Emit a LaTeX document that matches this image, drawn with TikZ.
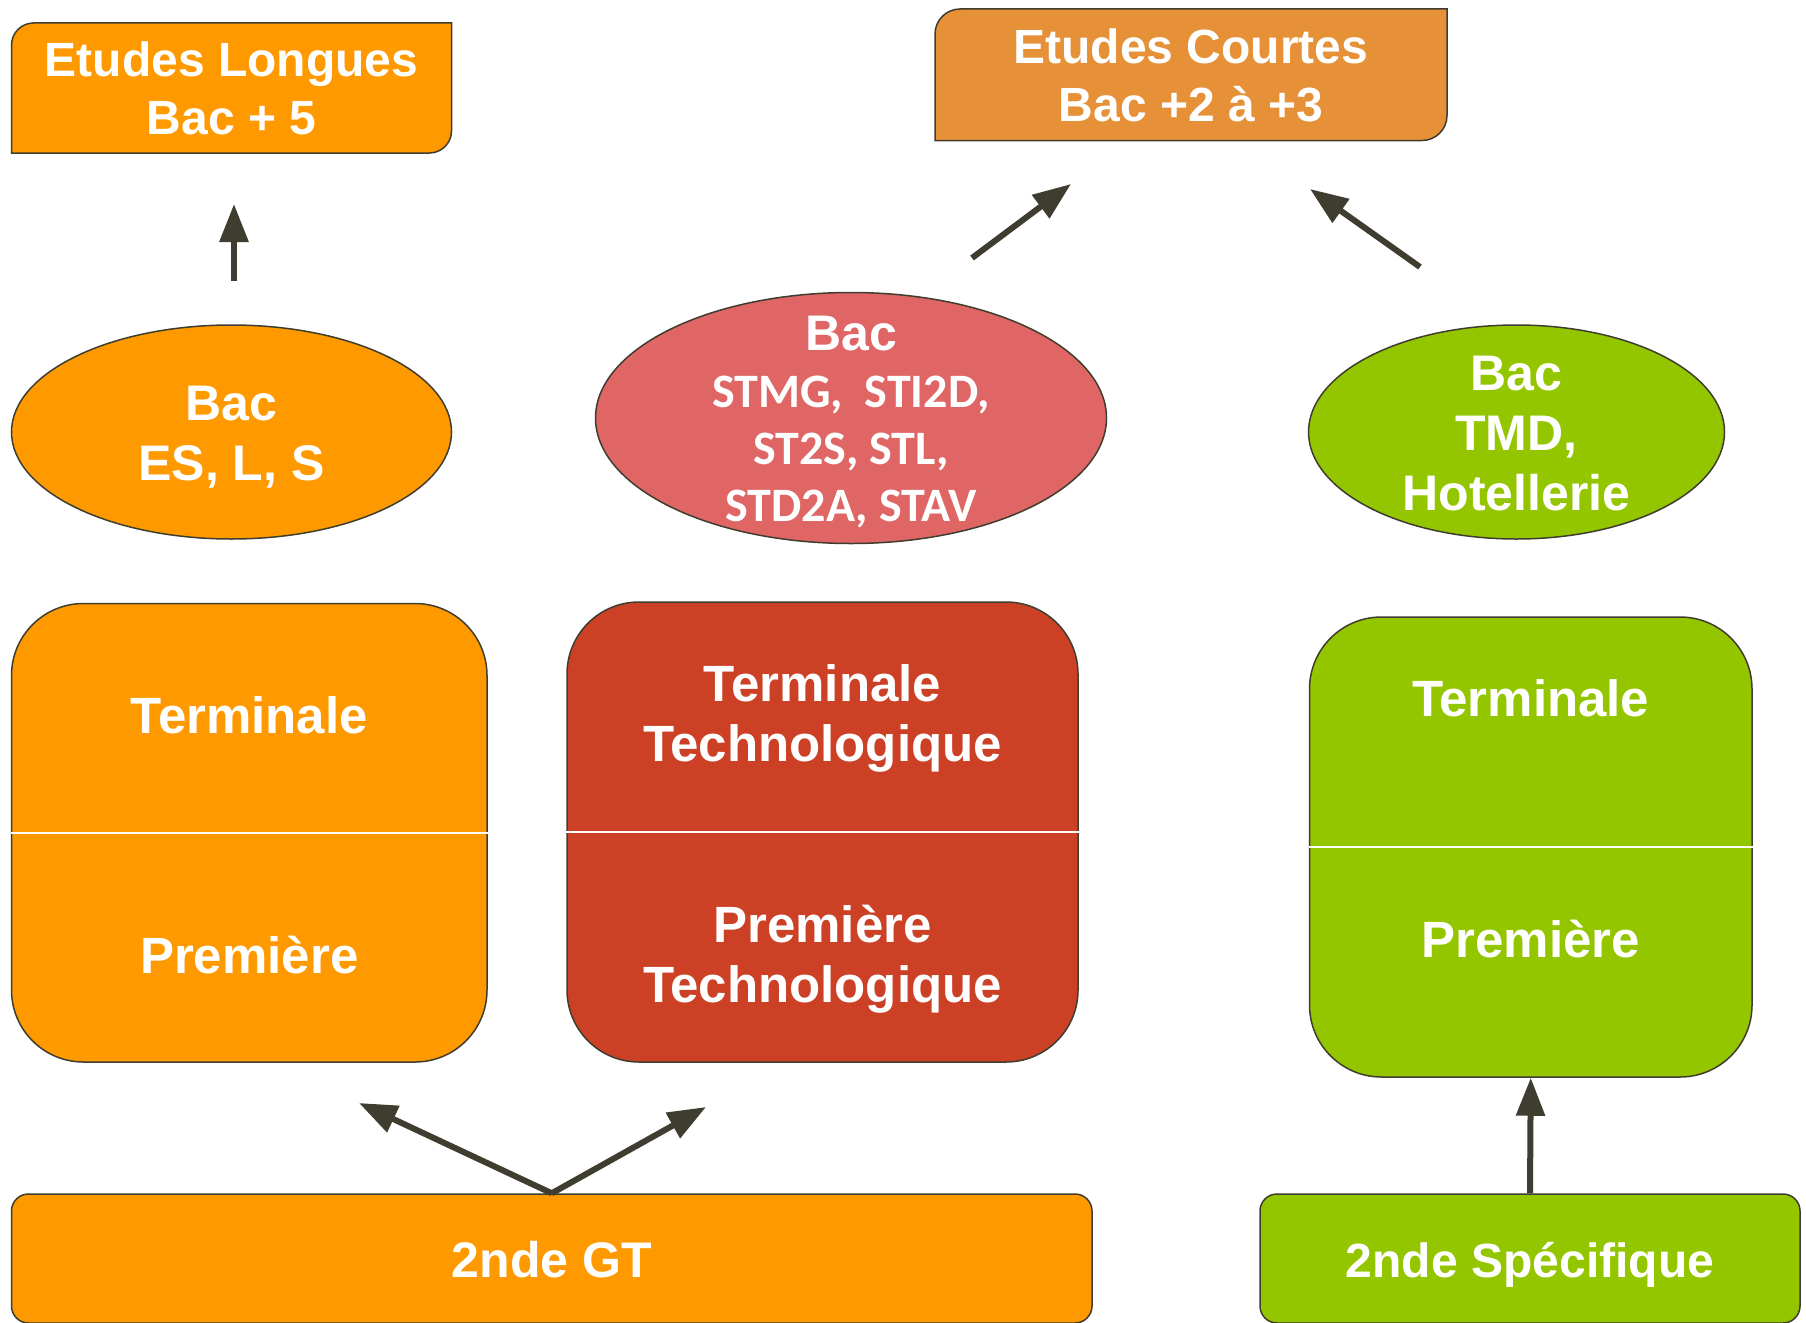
\documentclass[tikz,border=0pt]{standalone}
\usepackage{fontspec}
\setmainfont{Liberation Sans}
\newfontfamily\carlito{Carlito}
\usetikzlibrary{arrows.meta,shapes.geometric}
\definecolor{cOrange}{HTML}{FF9900}
\definecolor{cCourt}{HTML}{E69138}
\definecolor{cPink}{HTML}{E06666}
\definecolor{cRed}{HTML}{CC4125}
\definecolor{cGreen}{HTML}{94C600}
\definecolor{cLine}{HTML}{3F3D2F}
\begin{document}
\begin{tikzpicture}[x=1pt,y=-1pt,
  outl/.style={draw=cLine, line width=1.5pt},
  panel/.style={outl, rounded corners=72pt, inner sep=0pt},
  basebox/.style={outl, rounded corners=17pt, inner sep=0pt},
  oval/.style={outl, ellipse, inner sep=0pt},
  txt/.style={text=white, font=\bfseries\fontsize{50}{60}\selectfont, align=center, inner sep=0pt},
  txtp/.style={txt, font=\bfseries\fontsize{51}{60}\selectfont},
  txtc/.style={text=white, font=\carlito\bfseries\fontsize{48}{57}\selectfont, align=center, inner sep=0pt},
  divider/.style={draw=white, line width=1.5pt},
  arr/.style={draw=cLine, line width=6pt, -{Triangle[length=38pt,width=28pt]}}
]
\useasboundingbox (0,0) rectangle (1806,1322);
\fill[white] (0,0) rectangle (1806,1322);

% top boxes
\path[outl, fill=cOrange] (11.5,153) -- (11.5,45) .. controls (11.5,32.9) and (21.4,23) .. (33.5,23) -- (451.5,23) -- (451.5,131) .. controls (451.5,143.1) and (441.6,153) .. (429.5,153) -- cycle;
\node[txt, font=\bfseries\fontsize{48}{58}\selectfont] (el) at (231.5,88.5) {Etudes Longues\\Bac + 5};

\path[outl, fill=cCourt] (935,140.5) -- (935,34) .. controls (935,20.2) and (946.2,9) .. (960,9) -- (1447,9) -- (1447,115.5) .. controls (1447,129.3) and (1435.8,140.5) .. (1422,140.5) -- cycle;
\node[txt, font=\bfseries\fontsize{48}{58}\selectfont] (ec) at (1191,75.5) {Etudes Courtes\\Bac +2 à +3};

% ellipses
\node[oval, fill=cOrange, minimum width=440pt, minimum height=214pt] (e1) at (231.5,432) {};
\node[txt] (e1t) at (231.5,437) {Bac\\ES, L, S};

\node[oval, fill=cPink, minimum width=511pt, minimum height=251pt] (e2) at (851,418) {};
\node[txt] (e2a) at (851,334) {Bac};
\node[txtc] (e2b) at (851,452.5) {STMG,~~STI2D,\\ST2S, STL,\\STD2A, STAV};

\node[oval, fill=cGreen, minimum width=416pt, minimum height=214pt] (e3) at (1516.5,432) {};
\node[txt] (e3t) at (1516.5,433.5) {Bac\\TMD,\\Hotellerie};

% panels
\node[panel, fill=cOrange, minimum width=475.5pt, minimum height=458.5pt] (p1) at (249.25,832.75) {};
\draw[divider] (p1.west) -- (p1.east);
\node[txtp] (p1a) at (249.25,715) {Terminale};
\node[txtp] (p1b) at (249.25,955) {Première};

\node[panel, fill=cRed, minimum width=511pt, minimum height=460pt] (p2) at (822.5,832) {};
\draw[divider] (p2.west) -- (p2.east);
\node[txtp] (p2a) at (822.5,718.5) {Terminale\\Technologique};
\node[txtp] (p2b) at (822.5,959) {Première\\Technologique};

\node[panel, fill=cGreen, minimum width=442.5pt, minimum height=460pt] (p3) at (1530.75,847) {};
\draw[divider] (p3.west) -- (p3.east);
\node[txtp] (p3a) at (1530.75,698) {Terminale};
\node[txtp] (p3b) at (1530.75,939) {Première};

% bottom boxes
\node[basebox, fill=cOrange, minimum width=1080.5pt, minimum height=129pt] (gt) at (551.75,1258.5) {};
\node[txt] (gtt) at (551.75,1260) {2nde GT};
\node[basebox, fill=cGreen, minimum width=540pt, minimum height=129pt] (sp) at (1530,1258.5) {};
\node[txt, font=\bfseries\fontsize{48}{58}\selectfont] (spt) at (1530,1264.5) {2nde Spécifique};

% arrows
\coordinate (a1s) at (234,281);
\coordinate (a1e) at (234,204);
\coordinate (a2s) at (972,258);
\coordinate (a2e) at (1071,184);
\coordinate (a3s) at (1420,267);
\coordinate (a3e) at (1310,189);
\coordinate (a4e) at (359,1103);
\coordinate (a5e) at (706,1107);
\draw[arr] (a1s) -- (a1e);
\draw[arr] (a2s) -- (a2e);
\draw[arr] (a3s) -- (a3e);
\draw[arr] (gt.north) -- (a4e);
\draw[arr] (gt.north) -- (a5e);
\draw[arr] (sp.north) -- (p3.south);
\end{tikzpicture}
\end{document}
